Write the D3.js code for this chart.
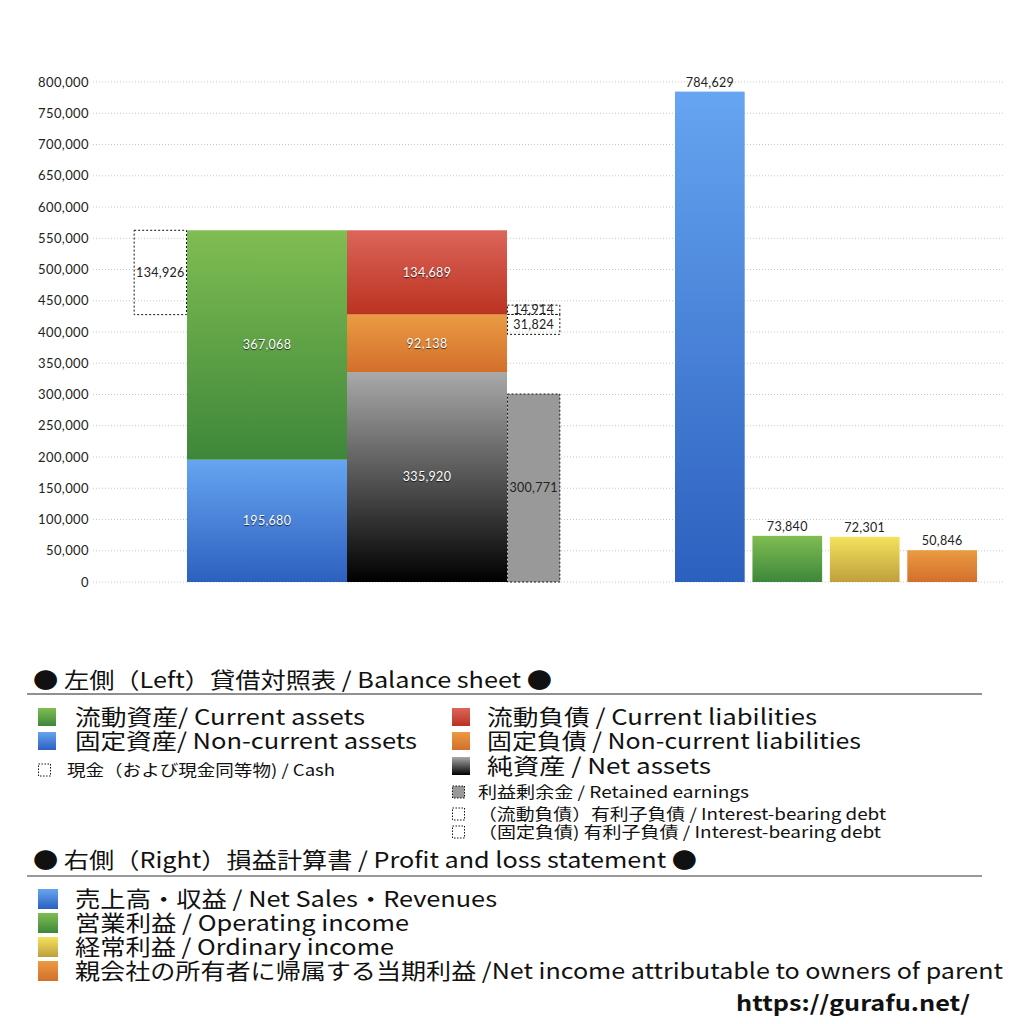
<!DOCTYPE html>
<html>
<head>
<meta charset="utf-8">
<script src="https://cdn.jsdelivr.net/npm/d3@7"></script>
<style>
  body { margin: 0; background: #fff; }
  svg { display: block; }
  .tick-label { font-family: Lato, "Noto Sans", sans-serif; font-size: 13px; letter-spacing: 0.4px; fill: #222; }
  .val { font-family: Lato, "Noto Sans", sans-serif; font-size: 12.5px; letter-spacing: 0.3px; }
  .leg { font-family: "Noto Sans CJK JP", sans-serif; fill: #111; }
</style>
</head>
<body>
<div id="chart"></div>
<script>
// Balance sheet (left)
const bsColumns = ["資産", "負債・純資産"];
const assetKeys = ["固定資産", "流動資産"];
const assetValues = [195680, 367068];
const liabKeys = ["純資産", "固定負債", "流動負債"];
const liabValues = [335920, 92138, 134689];
const cashValue = 134926;
const retainedEarnings = 300771;
const debtKeys = ["流動負債 有利子負債", "固定負債 有利子負債"];
const debtValues = [14914, 31824];

// Profit and loss (right)
const plKeys = ["売上高・収益", "営業利益", "経常利益", "親会社株主に帰属する当期純利益"];
const plValues = [784629, 73840, 72301, 50846];

const yMax = 800000;
const yTickStep = 50000;

// Set up the canvas
const W = 1024, H = 1024;
const svg = d3.select("#chart").append("svg")
    .attr("width", W)
    .attr("height", H);

const defs = svg.append("defs");
function grad(id, stops) {
    const g = defs.append("linearGradient").attr("id", id)
        .attr("x1", 0).attr("y1", 0).attr("x2", 0).attr("y2", 1);
    stops.forEach(([o, c]) => g.append("stop").attr("offset", o).attr("stop-color", c));
}
grad("gGreen", [[0, "#80bd52"], [1, "#3e873a"]]);
grad("gBlue", [[0, "#66a5f1"], [1, "#2c60bf"]]);
grad("gRed", [[0, "#dc655a"], [1, "#bb3220"]]);
grad("gOrange", [[0, "#eb9b42"], [1, "#d36f2c"]]);
grad("gBlack", [[0, "#a9a9a9"], [0.5, "#555"], [1, "#000"]]);
grad("gYellow", [[0, "#f3e35c"], [1, "#bf9f3e"]]);

// Scales
const y = d3.scaleLinear().domain([0, yMax]).range([582, 82]);
const xLeft = d3.scaleBand().domain(bsColumns).range([187, 507]).padding(0);
const sideW = xLeft.bandwidth() / 3;
const xRight = d3.scaleBand().domain(plKeys).range([675, 977]).paddingInner(0.1).paddingOuter(0);

// Gridlines and y tick labels
const ticks = d3.range(0, yMax + 1, yTickStep);
svg.append("g").selectAll("line").data(ticks).join("line")
    .attr("x1", 93).attr("x2", 1005)
    .attr("y1", d => y(d)).attr("y2", d => y(d))
    .attr("stroke", "#c8c8c8")
    .attr("stroke-width", 1)
    .attr("stroke-dasharray", "1,2");

svg.append("g").selectAll("text").data(ticks).join("text")
    .attr("class", "tick-label")
    .attr("x", 89)
    .attr("y", d => y(d))
    .attr("dy", "0.35em")
    .attr("text-anchor", "end")
    .text(d => d3.format(",")(d));

const fmt = d3.format(",");
function stack(values) {
    let acc = 0;
    return values.map(v => { const s = { y0: acc, y1: acc + v, v }; acc += v; return s; });
}

// Left: assets and liabilities columns
const assetFills = ["url(#gBlue)", "url(#gGreen)"];
const assetStack = stack(assetValues);
const liabFills = ["url(#gBlack)", "url(#gOrange)", "url(#gRed)"];
const liabStack = stack(liabValues);

function drawStack(data, col, fills) {
    const g = svg.append("g");
    g.selectAll("rect").data(data).join("rect")
        .attr("x", xLeft(col))
        .attr("width", xLeft.bandwidth())
        .attr("y", d => y(d.y1))
        .attr("height", d => y(d.y0) - y(d.y1))
        .attr("fill", (d, i) => fills[i]);
    g.selectAll("text").data(data).join("text")
        .attr("class", "val")
        .attr("x", xLeft(col) + xLeft.bandwidth() / 2)
        .attr("y", d => y((d.y0 + d.y1) / 2))
        .attr("dy", "0.35em")
        .attr("text-anchor", "middle")
        .attr("fill", "#fff")
        .style("text-shadow", "0 1px 1px rgba(0,0,0,0.7)")
        .text(d => fmt(d.v));
}
drawStack(assetStack, bsColumns[0], assetFills);
drawStack(liabStack, bsColumns[1], liabFills);

// Dashed boxes: cash, retained earnings, interest-bearing debt
const totalAssets = d3.sum(assetValues);
const curLiabBottom = liabValues[0] + liabValues[1];
const boxes = [
    { x: xLeft(bsColumns[0]) - sideW, y0: totalAssets - cashValue, y1: totalAssets, v: cashValue, fill: "none" },
    { x: xLeft(bsColumns[1]) + xLeft.bandwidth(), y0: 0, y1: retainedEarnings, v: retainedEarnings, fill: "#999" },
    { x: xLeft(bsColumns[1]) + xLeft.bandwidth(), y0: curLiabBottom, y1: curLiabBottom + debtValues[0], v: debtValues[0], fill: "none" },
    { x: xLeft(bsColumns[1]) + xLeft.bandwidth(), y0: curLiabBottom - debtValues[1], y1: curLiabBottom, v: debtValues[1], fill: "none" }
];
const bg = svg.append("g");
bg.selectAll("rect").data(boxes).join("rect")
    .attr("x", d => d.x + 0.5)
    .attr("width", sideW - 1)
    .attr("y", d => y(d.y1))
    .attr("height", d => y(d.y0) - y(d.y1))
    .attr("fill", d => d.fill)
    .attr("stroke", "#111")
    .attr("stroke-width", 1)
    .attr("stroke-dasharray", "2,2");
bg.selectAll("text").data(boxes).join("text")
    .attr("class", "val")
    .attr("x", d => d.x + sideW / 2)
    .attr("y", d => y((d.y0 + d.y1) / 2))
    .attr("dy", "0.35em")
    .attr("text-anchor", "middle")
    .attr("fill", "#222")
    .text(d => fmt(d.v));

// Right: P&L bars
const plFills = ["url(#gBlue)", "url(#gGreen)", "url(#gYellow)", "url(#gOrange)"];
const pg = svg.append("g");
pg.selectAll("rect").data(plValues).join("rect")
    .attr("x", (d, i) => xRight(plKeys[i]))
    .attr("width", xRight.bandwidth())
    .attr("y", d => y(d))
    .attr("height", d => y(0) - y(d))
    .attr("fill", (d, i) => plFills[i]);
pg.selectAll("text").data(plValues).join("text")
    .attr("class", "val")
    .attr("x", (d, i) => xRight(plKeys[i]) + xRight.bandwidth() / 2)
    .attr("y", d => y(d) - 5)
    .attr("text-anchor", "middle")
    .attr("fill", "#222")
    .text(d => fmt(d));

// Legend (texts stretched to the widths they take in the original)
const leg = svg.append("g");
function legText(x, yc, size, txt, w, weight) {
    const t = leg.append("text").attr("class", "leg")
        .attr("x", x).attr("y", yc).attr("dy", "0.36em")
        .style("font-size", size + "px")
        .style("font-weight", weight || "normal")
        .text(txt);
    if (w) t.attr("textLength", w).attr("lengthAdjust", "spacingAndGlyphs");
    return t;
}
function swatch(x, yc, s, fill, dashed) {
    leg.append("rect")
        .attr("x", x).attr("y", yc - s / 2).attr("width", s).attr("height", s)
        .attr("fill", fill)
        .attr("stroke", dashed ? "#111" : "none")
        .attr("stroke-dasharray", dashed ? "1.5,1.5" : null);
}

legText(33, 680, 22, "● 左側（Left）貸借対照表 / Balance sheet ●", 519);
leg.append("line").attr("x1", 27).attr("x2", 982).attr("y1", 694).attr("y2", 694)
    .attr("stroke", "#222").attr("stroke-width", 1.2);

swatch(38, 717, 18, "url(#gGreen)");
legText(75, 717, 22, "流動資産/ Current assets", 290);
swatch(38, 741, 18, "url(#gBlue)");
legText(75, 741, 22, "固定資産/ Non-current assets", 342);
swatch(38.5, 770, 12, "none", true);
legText(67, 770, 16, "現金（および現金同等物) / Cash", 268);

swatch(452, 717, 18, "url(#gRed)");
legText(487, 717, 22, "流動負債 /  Current liabilities", 330);
swatch(452, 741, 18, "url(#gOrange)");
legText(487, 741, 22, "固定負債 / Non-current liabilities", 374);
swatch(452, 766, 18, "url(#gBlack)");
legText(487, 766, 22, "純資産 / Net assets", 224);
swatch(452.5, 792, 12, "#999", true);
legText(478, 792, 16, "利益剰余金 / Retained earnings", 271);
swatch(452.5, 814, 12, "none", true);
legText(478, 814, 16, "（流動負債）有利子負債 / Interest-bearing debt", 408);
swatch(452.5, 832, 12, "none", true);
legText(478, 832, 16, "（固定負債) 有利子負債 / Interest-bearing debt", 403);

legText(33, 860, 22, "● 右側（Right）損益計算書 / Profit and loss statement ●", 664);
leg.append("line").attr("x1", 27).attr("x2", 982).attr("y1", 876).attr("y2", 876)
    .attr("stroke", "#777").attr("stroke-width", 1.5);

const plLegend = [
    "売上高・収益 / Net Sales・Revenues",
    "営業利益 / Operating income",
    "経常利益 / Ordinary income",
    "親会社の所有者に帰属する当期利益 /Net income attributable to owners of parent"
];
const plLegendW = [422, 334, 319, 928];
plLegend.forEach((t, i) => {
    const yc = 899 + i * 24;
    swatch(38, yc, 20, plFills[i]);
    legText(75, yc, 22, t, plLegendW[i]);
});

legText(736, 1003, 21, "https://gurafu.net/", 234, "bold");
</script>
</body>
</html>
